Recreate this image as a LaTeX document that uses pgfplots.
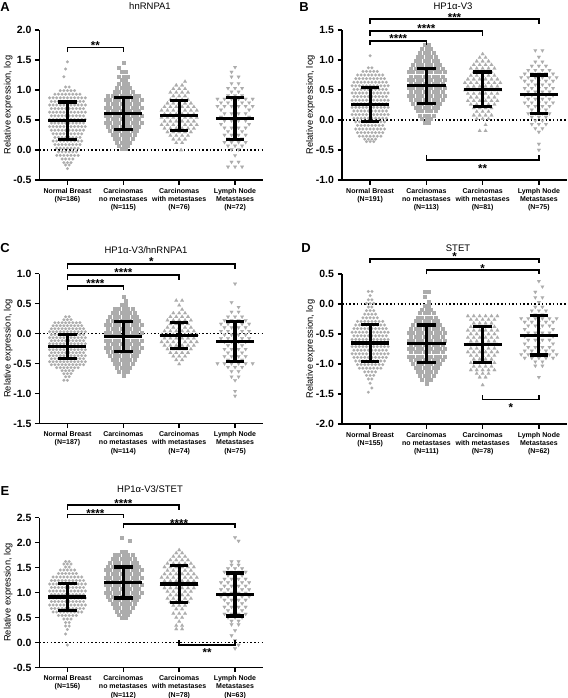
\documentclass[border=0pt]{standalone}
\usepackage{fontspec}
\setmainfont{Liberation Sans}
\usepackage{pgfplots}
\pgfplotsset{compat=1.18}
\definecolor{mk}{RGB}{172,172,172}
\tikzset{
  br/.style={black, line width=1.5pt},
  st/.style={font=\bfseries\fontsize{11.5}{11.5}\selectfont, anchor=base, yshift=-6.7pt, inner sep=0pt},
}
\pgfplotsset{
  panel/.style={scale only axis, height=150pt, xmin=-0.5, xmax=3.5,
    axis x line*=bottom, axis y line*=left,
    axis line style={line width=1.7pt, black},
    tick style={line width=1.5pt, black},
    major tick length=4.5pt, tick align=outside,
    xtick={0,1,2,3},
    xticklabel style={font=\bfseries\fontsize{7}{8.2}\selectfont, align=center},
    yticklabel style={font=\bfseries\fontsize{10.5}{12}\selectfont,
      /pgf/number format/fixed, /pgf/number format/fixed zerofill,
      /pgf/number format/precision=1, /pgf/number format/assume math mode=true},
    ylabel={Relative expression, log},
    ylabel style={font=\fontsize{9.3}{11}\selectfont, at={(axis description cs:-0.14,0.5)}, anchor=center},
    clip=false, clip marker paths=true, anchor=south west},
  sh/.style 2 args={x filter/.expression={#1+#2*x}},
  c0/.style={only marks, color=mk, mark=*, mark size=1.45pt, mark options={draw=mk, fill=mk, line width=0.1pt}},
  c1/.style={only marks, color=mk, mark=square*, mark size=1.5pt, mark options={draw=mk, fill=mk, line width=0.1pt}},
  c2/.style={only marks, color=mk, mark=triangle*, mark size=2.1pt, mark options={draw=mk, fill=mk, line width=0.1pt}},
  c3/.style={only marks, color=mk, mark=triangle*, mark size=2.1pt, mark options={draw=mk, fill=mk, line width=0.1pt, rotate=180}},
  ebl/.style={black, line width=3.2pt, no markers, unbounded coords=jump},
  zl/.style={black, line width=1.5pt, dash pattern=on 1.5pt off 2.2pt},
}
\begin{document}
\begin{tikzpicture}
\useasboundingbox (0pt,0pt) rectangle (567pt,-698pt);
% ================= A =================
\begin{axis}[panel, at={(39.5pt,-180pt)}, width=223.5pt, ymin=-0.5, ymax=2, ytick={-0.5,0,0.5,1,1.5,2},
  xticklabels={{Normal Breast\\(N=186)},{Carcinomas\\no metastases\\(N=115)},{Carcinomas\\with metastases\\(N=76)},{Lymph Node\\Metastases\\(N=72)}}]
\addplot[zl] coordinates {(-0.5,0) (3.5,0)};
\addplot[c0, sh={0}{0.032}] coordinates {
(0,1.47)(-1,1.35)(-2,1.22)
(-1,1.05)(1,1.05)
(-4,0.99)(-2,0.99)(0,0.99)(2,0.99)(4,0.99)
(-7,0.93)(-5,0.93)(-3,0.93)(-1,0.93)(1,0.93)(3,0.93)(5,0.93)(7,0.93)
(-10,0.87)(-8,0.87)(-6,0.87)(-4,0.87)(-2,0.87)(0,0.87)(2,0.87)(4,0.87)(6,0.87)(8,0.87)(10,0.87)
(-9,0.81)(-7,0.81)(-5,0.81)(-3,0.81)(-1,0.81)(1,0.81)(3,0.81)(5,0.81)(7,0.81)(9,0.81)
(-10,0.75)(-8,0.75)(-6,0.75)(-4,0.75)(-2,0.75)(0,0.75)(2,0.75)(4,0.75)(6,0.75)(8,0.75)(10,0.75)
(-9,0.69)(-7,0.69)(-5,0.69)(-3,0.69)(-1,0.69)(1,0.69)(3,0.69)(5,0.69)(7,0.69)(9,0.69)
(-10,0.63)(-8,0.63)(-6,0.63)(-4,0.63)(-2,0.63)(0,0.63)(2,0.63)(4,0.63)(6,0.63)(8,0.63)(10,0.63)
(-9,0.57)(-7,0.57)(-5,0.57)(-3,0.57)(-1,0.57)(1,0.57)(3,0.57)(5,0.57)(7,0.57)(9,0.57)
(-10,0.51)(-8,0.51)(-6,0.51)(-4,0.51)(-2,0.51)(0,0.51)(2,0.51)(4,0.51)(6,0.51)(8,0.51)(10,0.51)
(-9,0.45)(-7,0.45)(-5,0.45)(-3,0.45)(-1,0.45)(1,0.45)(3,0.45)(5,0.45)(7,0.45)(9,0.45)
(-10,0.39)(-8,0.39)(-6,0.39)(-4,0.39)(-2,0.39)(0,0.39)(2,0.39)(4,0.39)(6,0.39)(8,0.39)(10,0.39)
(-9,0.33)(-7,0.33)(-5,0.33)(-3,0.33)(-1,0.33)(1,0.33)(3,0.33)(5,0.33)(7,0.33)(9,0.33)
(-8,0.27)(-6,0.27)(-4,0.27)(-2,0.27)(0,0.27)(2,0.27)(4,0.27)(6,0.27)(8,0.27)
(-7,0.21)(-5,0.21)(-3,0.21)(-1,0.21)(1,0.21)(3,0.21)(5,0.21)(7,0.21)
(-8,0.15)(-6,0.15)(-4,0.15)(-2,0.15)(0,0.15)(2,0.15)(4,0.15)(6,0.15)(8,0.15)
(-7,0.09)(-5,0.09)(-3,0.09)(-1,0.09)(1,0.09)(3,0.09)(5,0.09)(7,0.09)
(-6,0.03)(-4,0.03)(-2,0.03)(0,0.03)(2,0.03)(4,0.03)(6,0.03)
(-5,-0.03)(-3,-0.03)(-1,-0.03)(1,-0.03)(3,-0.03)(5,-0.03)
(-6,-0.09)(-4,-0.09)(-2,-0.09)(0,-0.09)(2,-0.09)(4,-0.09)(6,-0.09)
(-3,-0.15)(-1,-0.15)(1,-0.15)(3,-0.15)
(-2,-0.21)(0,-0.21)(2,-0.21)
(-1,-0.25)(1,-0.25)
(0,-0.31)
};
\addplot[c1, sh={1}{0.04}] coordinates {
(0,1.46)(-2,1.38)
(-1,1.30)(1,1.30)
(-2,1.23)(0,1.23)(2,1.23)
(-1,1.17)(1,1.17)
(-2,1.10)(0,1.10)(2,1.10)
(-3,1.04)(-1,1.04)(1,1.04)(3,1.04)
(-4,0.97)(-2,0.97)(0,0.97)(2,0.97)(4,0.97)
(-7,0.91)(-5,0.91)(-3,0.91)(-1,0.91)(1,0.91)(3,0.91)(5,0.91)(7,0.91)
(-8,0.84)(-6,0.84)(-4,0.84)(-2,0.84)(0,0.84)(2,0.84)(4,0.84)(6,0.84)(8,0.84)
(-7,0.78)(-5,0.78)(-3,0.78)(-1,0.78)(1,0.78)(3,0.78)(5,0.78)(7,0.78)
(-8,0.71)(-6,0.71)(-4,0.71)(-2,0.71)(0,0.71)(2,0.71)(4,0.71)(6,0.71)(8,0.71)
(-7,0.65)(-5,0.65)(-3,0.65)(-1,0.65)(1,0.65)(3,0.65)(5,0.65)(7,0.65)
(-8,0.58)(-6,0.58)(-4,0.58)(-2,0.58)(0,0.58)(2,0.58)(4,0.58)(6,0.58)(8,0.58)
(-7,0.52)(-5,0.52)(-3,0.52)(-1,0.52)(1,0.52)(3,0.52)(5,0.52)(7,0.52)
(-8,0.45)(-6,0.45)(-4,0.45)(-2,0.45)(0,0.45)(2,0.45)(4,0.45)(6,0.45)(8,0.45)
(-7,0.39)(-5,0.39)(-3,0.39)(-1,0.39)(1,0.39)(3,0.39)(5,0.39)(7,0.39)
(-6,0.32)(-4,0.32)(-2,0.32)(0,0.32)(2,0.32)(4,0.32)(6,0.32)
(-5,0.26)(-3,0.26)(-1,0.26)(1,0.26)(3,0.26)(5,0.26)
(-4,0.19)(-2,0.19)(0,0.19)(2,0.19)(4,0.19)
(-3,0.13)(-1,0.13)(1,0.13)(3,0.13)
(-2,0.07)(0,0.07)(2,0.07)
(-1,0.02)(1,0.02)
};
\addplot[c2, sh={2}{0.035}] coordinates {
(3,1.14)
(-1.5,1.08)(1.5,1.08)
(-3,1.02)(0,1.02)(3,1.02)
(-4.5,0.96)(-1.5,0.96)(1.5,0.96)(4.5,0.96)
(-3,0.90)(0,0.90)(3,0.90)
(-4.5,0.84)(-1.5,0.84)(1.5,0.84)(4.5,0.84)
(-6,0.78)(-3,0.78)(0,0.78)(3,0.78)(6,0.78)
(-7.5,0.72)(-4.5,0.72)(-1.5,0.72)(1.5,0.72)(4.5,0.72)(7.5,0.72)
(-9,0.66)(-6,0.66)(-3,0.66)(0,0.66)(3,0.66)(6,0.66)(9,0.66)
(-7.5,0.60)(-4.5,0.60)(-1.5,0.60)(1.5,0.60)(4.5,0.60)(7.5,0.60)
(-9,0.54)(-6,0.54)(-3,0.54)(0,0.54)(3,0.54)(6,0.54)(9,0.54)
(-7.5,0.48)(-4.5,0.48)(-1.5,0.48)(1.5,0.48)(4.5,0.48)(7.5,0.48)
(-9,0.42)(-6,0.42)(-3,0.42)(0,0.42)(3,0.42)(6,0.42)(9,0.42)
(-7.5,0.36)(-4.5,0.36)(-1.5,0.36)(1.5,0.36)(4.5,0.36)(7.5,0.36)
(-6,0.30)(-3,0.30)(0,0.30)(3,0.30)(6,0.30)
(-4.5,0.24)(-1.5,0.24)(1.5,0.24)(4.5,0.24)
(-3,0.18)(0,0.18)(3,0.18)
(-1.5,0.12)(1.5,0.12)
(1,0.00)
};
\addplot[c3, sh={3}{0.042}] coordinates {
(0,1.38)(-1.5,1.30)
(-1.5,1.22)(1.5,1.22)
(-1.5,1.11)(1.5,1.11)
(-3,1.03)(0,1.03)(3,1.03)
(-1.5,0.97)(1.5,0.97)
(-3,0.91)(0,0.91)(3,0.91)
(-7.5,0.85)(-4.5,0.85)(-1.5,0.85)(1.5,0.85)(4.5,0.85)(7.5,0.85)
(-6,0.79)(-3,0.79)(0,0.79)(3,0.79)(6,0.79)
(-7.5,0.73)(-4.5,0.73)(-1.5,0.73)(1.5,0.73)(4.5,0.73)(7.5,0.73)
(-6,0.67)(0,0.67)(6,0.67)
(-4.5,0.61)(-1.5,0.61)(1.5,0.61)(4.5,0.61)
(-6,0.55)(0,0.55)(6,0.55)
(-4.5,0.49)(-1.5,0.49)(1.5,0.49)(4.5,0.49)
(-6,0.43)(0,0.43)(6,0.43)
(-4.5,0.37)(-1.5,0.37)(1.5,0.37)(4.5,0.37)
(-3,0.31)(0,0.31)(3,0.31)
(-4.5,0.25)(-1.5,0.25)(1.5,0.25)(4.5,0.25)
(-3,0.19)(0,0.19)(3,0.19)
(-4.5,0.13)(-1.5,0.13)(1.5,0.13)(4.5,0.13)
(-3,0.07)(0,0.07)(3,0.07)
(-1.5,0.01)(1.5,0.01)
(0,-0.09)
(-1.5,-0.20)(1.5,-0.20)
(-3,-0.28)(0,-0.28)(3,-0.28)
};
\addplot[ebl] coordinates {
(0,0.18)(0,0.80)(nan,nan)(-0.165,0.80)(0.165,0.80)(nan,nan)(-0.165,0.18)(0.165,0.18)(nan,nan)(-0.34,0.49)(0.34,0.49)(nan,nan)
(1,0.34)(1,0.88)(nan,nan)(0.835,0.88)(1.165,0.88)(nan,nan)(0.835,0.34)(1.165,0.34)(nan,nan)(0.66,0.61)(1.34,0.61)(nan,nan)
(2,0.33)(2,0.83)(nan,nan)(1.835,0.83)(2.165,0.83)(nan,nan)(1.835,0.33)(2.165,0.33)(nan,nan)(1.66,0.58)(2.34,0.58)(nan,nan)
(3,0.18)(3,0.87)(nan,nan)(2.835,0.87)(3.165,0.87)(nan,nan)(2.835,0.18)(3.165,0.18)(nan,nan)(2.66,0.525)(3.34,0.525)
};
\draw[br] (axis cs:0,1.63) -- (axis cs:0,1.705) -- (axis cs:1,1.705) -- (axis cs:1,1.63);
\node[st] at (axis cs:0.5,1.78) {**};
\end{axis}
% ================= B =================
\begin{axis}[panel, at={(342pt,-180pt)}, width=225pt, ymin=-1, ymax=1.5, ytick={-1,-0.5,0,0.5,1,1.5},
  xticklabels={{Normal Breast\\(N=191)},{Carcinomas\\no metastases\\(N=113)},{Carcinomas\\with metastases\\(N=81)},{Lymph Node\\Metastases\\(N=75)}}]
\addplot[zl] coordinates {(-0.5,0) (3.5,0)};
\addplot[c0, sh={0}{0.032}] coordinates {
(0,1.07)
(-1,0.87)(1,0.87)
(-4,0.81)(-2,0.81)(0,0.81)(2,0.81)(4,0.81)
(-7,0.75)(-5,0.75)(-3,0.75)(-1,0.75)(1,0.75)(3,0.75)(5,0.75)(7,0.75)
(-8,0.69)(-6,0.69)(-4,0.69)(-2,0.69)(0,0.69)(2,0.69)(4,0.69)(6,0.69)(8,0.69)
(-9,0.63)(-7,0.63)(-5,0.63)(-3,0.63)(-1,0.63)(1,0.63)(3,0.63)(5,0.63)(7,0.63)(9,0.63)
(-10,0.57)(-8,0.57)(-6,0.57)(-4,0.57)(-2,0.57)(0,0.57)(2,0.57)(4,0.57)(6,0.57)(8,0.57)(10,0.57)
(-9,0.51)(-7,0.51)(-5,0.51)(-3,0.51)(-1,0.51)(1,0.51)(3,0.51)(5,0.51)(7,0.51)(9,0.51)
(-10,0.45)(-8,0.45)(-6,0.45)(-4,0.45)(-2,0.45)(0,0.45)(2,0.45)(4,0.45)(6,0.45)(8,0.45)(10,0.45)
(-9,0.39)(-7,0.39)(-5,0.39)(-3,0.39)(-1,0.39)(1,0.39)(3,0.39)(5,0.39)(7,0.39)(9,0.39)
(-10,0.33)(-8,0.33)(-6,0.33)(-4,0.33)(-2,0.33)(0,0.33)(2,0.33)(4,0.33)(6,0.33)(8,0.33)(10,0.33)
(-9,0.27)(-7,0.27)(-5,0.27)(-3,0.27)(-1,0.27)(1,0.27)(3,0.27)(5,0.27)(7,0.27)(9,0.27)
(-10,0.21)(-8,0.21)(-6,0.21)(-4,0.21)(-2,0.21)(0,0.21)(2,0.21)(4,0.21)(6,0.21)(8,0.21)(10,0.21)
(-9,0.15)(-7,0.15)(-5,0.15)(-3,0.15)(-1,0.15)(1,0.15)(3,0.15)(5,0.15)(7,0.15)(9,0.15)
(-10,0.09)(-8,0.09)(-6,0.09)(-4,0.09)(-2,0.09)(0,0.09)(2,0.09)(4,0.09)(6,0.09)(8,0.09)(10,0.09)
(-9,0.03)(-7,0.03)(-5,0.03)(-3,0.03)(-1,0.03)(1,0.03)(3,0.03)(5,0.03)(7,0.03)(9,0.03)
(-8,-0.03)(-6,-0.03)(-4,-0.03)(-2,-0.03)(0,-0.03)(2,-0.03)(4,-0.03)(6,-0.03)(8,-0.03)
(-7,-0.09)(-5,-0.09)(-3,-0.09)(-1,-0.09)(1,-0.09)(3,-0.09)(5,-0.09)(7,-0.09)
(-8,-0.15)(-6,-0.15)(-4,-0.15)(-2,-0.15)(0,-0.15)(2,-0.15)(4,-0.15)(6,-0.15)(8,-0.15)
(-7,-0.21)(-5,-0.21)(-3,-0.21)(-1,-0.21)(1,-0.21)(3,-0.21)(5,-0.21)(7,-0.21)
(-6,-0.27)(-4,-0.27)(-2,-0.27)(0,-0.27)(2,-0.27)(4,-0.27)(6,-0.27)
(-3,-0.32)(-1,-0.32)(1,-0.32)(3,-0.32)
(-2,-0.36)(0,-0.36)(2,-0.36)
};
\addplot[c1, sh={1}{0.04}] coordinates {
(-1,1.25)(1,1.25)
(-2,1.19)(0,1.19)(2,1.19)
(-3,1.12)(-1,1.12)(1,1.12)(3,1.12)
(-4,1.06)(-2,1.06)(0,1.06)(2,1.06)(4,1.06)
(-5,0.99)(-3,0.99)(-1,0.99)(1,0.99)(3,0.99)(5,0.99)
(-6,0.93)(-4,0.93)(-2,0.93)(0,0.93)(2,0.93)(4,0.93)(6,0.93)
(-7,0.86)(-5,0.86)(-3,0.86)(-1,0.86)(1,0.86)(3,0.86)(5,0.86)(7,0.86)
(-8,0.80)(-6,0.80)(-4,0.80)(-2,0.80)(0,0.80)(2,0.80)(4,0.80)(6,0.80)(8,0.80)
(-7,0.73)(-5,0.73)(-3,0.73)(-1,0.73)(1,0.73)(3,0.73)(5,0.73)(7,0.73)
(-8,0.67)(-6,0.67)(-4,0.67)(-2,0.67)(0,0.67)(2,0.67)(4,0.67)(6,0.67)(8,0.67)
(-7,0.60)(-5,0.60)(-3,0.60)(-1,0.60)(1,0.60)(3,0.60)(5,0.60)(7,0.60)
(-8,0.54)(-6,0.54)(-4,0.54)(-2,0.54)(0,0.54)(2,0.54)(4,0.54)(6,0.54)(8,0.54)
(-7,0.47)(-5,0.47)(-3,0.47)(-1,0.47)(1,0.47)(3,0.47)(5,0.47)(7,0.47)
(-8,0.41)(-6,0.41)(-4,0.41)(-2,0.41)(0,0.41)(2,0.41)(4,0.41)(6,0.41)(8,0.41)
(-7,0.34)(-5,0.34)(-3,0.34)(-1,0.34)(1,0.34)(3,0.34)(5,0.34)(7,0.34)
(-6,0.28)(-4,0.28)(-2,0.28)(0,0.28)(2,0.28)(4,0.28)(6,0.28)
(-5,0.21)(-3,0.21)(-1,0.21)(1,0.21)(3,0.21)(5,0.21)
(-4,0.15)(-2,0.15)(0,0.15)(2,0.15)(4,0.15)
(-3,0.08)(-1,0.08)(1,0.08)(3,0.08)
(-2,0.02)(0,0.02)(2,0.02)
(-1,-0.05)(1,-0.05)
};
\addplot[c2, sh={2}{0.035}] coordinates {
(0,1.10)
(-1.5,1.04)(1.5,1.04)
(-3,0.98)(0,0.98)(3,0.98)
(-4.5,0.92)(-1.5,0.92)(1.5,0.92)(4.5,0.92)
(-6,0.86)(-3,0.86)(0,0.86)(3,0.86)(6,0.86)
(-4.5,0.80)(-1.5,0.80)(1.5,0.80)(4.5,0.80)
(-6,0.74)(-3,0.74)(0,0.74)(3,0.74)(6,0.74)
(-7.5,0.68)(-4.5,0.68)(-1.5,0.68)(1.5,0.68)(4.5,0.68)(7.5,0.68)
(-9,0.62)(-6,0.62)(-3,0.62)(0,0.62)(3,0.62)(6,0.62)(9,0.62)
(-7.5,0.56)(-4.5,0.56)(-1.5,0.56)(1.5,0.56)(4.5,0.56)(7.5,0.56)
(-9,0.50)(-6,0.50)(-3,0.50)(0,0.50)(3,0.50)(6,0.50)(9,0.50)
(-7.5,0.44)(-4.5,0.44)(-1.5,0.44)(1.5,0.44)(4.5,0.44)(7.5,0.44)
(-6,0.38)(-3,0.38)(0,0.38)(3,0.38)(6,0.38)
(-7.5,0.32)(-4.5,0.32)(-1.5,0.32)(1.5,0.32)(4.5,0.32)(7.5,0.32)
(-6,0.26)(-3,0.26)(0,0.26)(3,0.26)(6,0.26)
(-4.5,0.20)(-1.5,0.20)(1.5,0.20)(4.5,0.20)
(-3,0.14)(0,0.14)(3,0.14)
(-4.5,0.08)(-1.5,0.08)(1.5,0.08)(4.5,0.08)
(-3,0.02)(0,0.02)(3,0.02)
(1.5,-0.08)
(-1.5,-0.18)(1.5,-0.18)
};
\addplot[c3, sh={3}{0.042}] coordinates {
(-1.5,1.16)(1.5,1.16)
(0,1.05)
(-1.5,0.97)(1.5,0.97)
(-3,0.90)(0,0.90)(3,0.90)
(-4.5,0.83)(-1.5,0.83)(1.5,0.83)(4.5,0.83)
(-6,0.77)(-3,0.77)(0,0.77)(3,0.77)(6,0.77)
(-7.5,0.71)(-4.5,0.71)(-1.5,0.71)(1.5,0.71)(4.5,0.71)(7.5,0.71)
(-6,0.65)(-3,0.65)(0,0.65)(3,0.65)(6,0.65)
(-4.5,0.59)(-1.5,0.59)(1.5,0.59)(4.5,0.59)
(-6,0.53)(-3,0.53)(0,0.53)(3,0.53)(6,0.53)
(-4.5,0.47)(-1.5,0.47)(1.5,0.47)(4.5,0.47)
(-6,0.41)(-3,0.41)(0,0.41)(3,0.41)(6,0.41)
(-4.5,0.35)(-1.5,0.35)(1.5,0.35)(4.5,0.35)
(-6,0.29)(-3,0.29)(0,0.29)(3,0.29)(6,0.29)
(-4.5,0.23)(-1.5,0.23)(1.5,0.23)(4.5,0.23)
(-3,0.17)(0,0.17)(3,0.17)
(-4.5,0.11)(-1.5,0.11)(1.5,0.11)(4.5,0.11)
(-3,0.05)(0,0.05)(3,0.05)
(-1.5,-0.01)(1.5,-0.01)
(-3,-0.07)(0,-0.07)(3,-0.07)
(-1.5,-0.14)(1.5,-0.14)
(0,-0.20)(0,-0.40)(0,-0.50)
};
\addplot[ebl] coordinates {
(0,-0.02)(0,0.54)(nan,nan)(-0.165,0.54)(0.165,0.54)(nan,nan)(-0.165,-0.02)(0.165,-0.02)(nan,nan)(-0.34,0.26)(0.34,0.26)(nan,nan)
(1,0.275)(1,0.865)(nan,nan)(0.835,0.865)(1.165,0.865)(nan,nan)(0.835,0.275)(1.165,0.275)(nan,nan)(0.66,0.57)(1.34,0.57)(nan,nan)
(2,0.22)(2,0.80)(nan,nan)(1.835,0.80)(2.165,0.80)(nan,nan)(1.835,0.22)(2.165,0.22)(nan,nan)(1.66,0.51)(2.34,0.51)(nan,nan)
(3,0.11)(3,0.75)(nan,nan)(2.835,0.75)(3.165,0.75)(nan,nan)(2.835,0.11)(3.165,0.11)(nan,nan)(2.66,0.43)(3.34,0.43)
};
\draw[br] (axis cs:0,1.60) -- (axis cs:0,1.68) -- (axis cs:3,1.68) -- (axis cs:3,1.60);
\draw[br] (axis cs:0,1.405) -- (axis cs:0,1.483) -- (axis cs:2,1.483) -- (axis cs:2,1.405);
\draw[br] (axis cs:0,1.25) -- (axis cs:0,1.317) -- (axis cs:1,1.317) -- (axis cs:1,1.25);
\draw[br] (axis cs:1,-0.583) -- (axis cs:1,-0.667) -- (axis cs:3,-0.667) -- (axis cs:3,-0.583);
\node[st] at (axis cs:1.5,1.75) {***};
\node[st] at (axis cs:1,1.57) {****};
\node[st] at (axis cs:0.5,1.40) {****};
\node[st] at (axis cs:2,-0.76) {**};
\end{axis}
% ================= C =================
\begin{axis}[panel, at={(39.5pt,-423.5pt)}, width=223.5pt, ymin=-1.5, ymax=1, ytick={-1.5,-1,-0.5,0,0.5,1},
  xticklabels={{Normal Breast\\(N=187)},{Carcinomas\\no metastases\\(N=114)},{Carcinomas\\with metastases\\(N=74)},{Lymph Node\\Metastases\\(N=75)}}]
\addplot[zl] coordinates {(-0.5,0) (3.5,0)};
\addplot[c0, sh={0}{0.032}] coordinates {
(-1,0.28)(1,0.28)
(-2,0.23)(0,0.23)(2,0.23)
(-7,0.18)(-5,0.18)(-3,0.18)(-1,0.18)(1,0.18)(3,0.18)(5,0.18)(7,0.18)
(-8,0.13)(-6,0.13)(-4,0.13)(-2,0.13)(0,0.13)(2,0.13)(4,0.13)(6,0.13)(8,0.13)
(-9,0.08)(-7,0.08)(-5,0.08)(-3,0.08)(-1,0.08)(1,0.08)(3,0.08)(5,0.08)(7,0.08)(9,0.08)
(-10,0.03)(-8,0.03)(-6,0.03)(-4,0.03)(-2,0.03)(0,0.03)(2,0.03)(4,0.03)(6,0.03)(8,0.03)(10,0.03)
(-9,-0.02)(-7,-0.02)(-5,-0.02)(-3,-0.02)(-1,-0.02)(1,-0.02)(3,-0.02)(5,-0.02)(7,-0.02)(9,-0.02)
(-10,-0.07)(-8,-0.07)(-6,-0.07)(-4,-0.07)(-2,-0.07)(0,-0.07)(2,-0.07)(4,-0.07)(6,-0.07)(8,-0.07)(10,-0.07)
(-9,-0.12)(-7,-0.12)(-5,-0.12)(-3,-0.12)(-1,-0.12)(1,-0.12)(3,-0.12)(5,-0.12)(7,-0.12)(9,-0.12)
(-10,-0.17)(-8,-0.17)(-6,-0.17)(-4,-0.17)(-2,-0.17)(0,-0.17)(2,-0.17)(4,-0.17)(6,-0.17)(8,-0.17)(10,-0.17)
(-9,-0.22)(-7,-0.22)(-5,-0.22)(-3,-0.22)(-1,-0.22)(1,-0.22)(3,-0.22)(5,-0.22)(7,-0.22)(9,-0.22)
(-10,-0.27)(-8,-0.27)(-6,-0.27)(-4,-0.27)(-2,-0.27)(0,-0.27)(2,-0.27)(4,-0.27)(6,-0.27)(8,-0.27)(10,-0.27)
(-9,-0.32)(-7,-0.32)(-5,-0.32)(-3,-0.32)(-1,-0.32)(1,-0.32)(3,-0.32)(5,-0.32)(7,-0.32)(9,-0.32)
(-10,-0.37)(-8,-0.37)(-6,-0.37)(-4,-0.37)(-2,-0.37)(0,-0.37)(2,-0.37)(4,-0.37)(6,-0.37)(8,-0.37)(10,-0.37)
(-9,-0.42)(-7,-0.42)(-5,-0.42)(-3,-0.42)(-1,-0.42)(1,-0.42)(3,-0.42)(5,-0.42)(7,-0.42)(9,-0.42)
(-10,-0.47)(-8,-0.47)(-6,-0.47)(-4,-0.47)(-2,-0.47)(0,-0.47)(2,-0.47)(4,-0.47)(6,-0.47)(8,-0.47)(10,-0.47)
(-9,-0.52)(-7,-0.52)(-5,-0.52)(-3,-0.52)(-1,-0.52)(1,-0.52)(3,-0.52)(5,-0.52)(7,-0.52)(9,-0.52)
(-6,-0.57)(-4,-0.57)(-2,-0.57)(0,-0.57)(2,-0.57)(4,-0.57)(6,-0.57)
(-3,-0.62)(-1,-0.62)(1,-0.62)(3,-0.62)
(-2,-0.67)(0,-0.67)(2,-0.67)
(-1,-0.72)(1,-0.72)
(-2,-0.78)(0,-0.78)
};
\addplot[c1, sh={1}{0.04}] coordinates {
(0,0.62)(1,0.55)
(-1,0.48)(1,0.48)
(-4,0.41)(-2,0.41)(0,0.41)(2,0.41)(4,0.41)
(-5,0.35)(-3,0.35)(-1,0.35)(1,0.35)(3,0.35)(5,0.35)
(-6,0.28)(-4,0.28)(-2,0.28)(0,0.28)(2,0.28)(4,0.28)(6,0.28)
(-7,0.22)(-5,0.22)(-3,0.22)(-1,0.22)(1,0.22)(3,0.22)(5,0.22)(7,0.22)
(-8,0.15)(-6,0.15)(-4,0.15)(-2,0.15)(0,0.15)(2,0.15)(4,0.15)(6,0.15)(8,0.15)
(-7,0.09)(-5,0.09)(-3,0.09)(-1,0.09)(1,0.09)(3,0.09)(5,0.09)(7,0.09)
(-8,0.02)(-6,0.02)(-4,0.02)(-2,0.02)(0,0.02)(2,0.02)(4,0.02)(6,0.02)(8,0.02)
(-7,-0.04)(-5,-0.04)(-3,-0.04)(-1,-0.04)(1,-0.04)(3,-0.04)(5,-0.04)(7,-0.04)
(-8,-0.11)(-6,-0.11)(-4,-0.11)(-2,-0.11)(0,-0.11)(2,-0.11)(4,-0.11)(6,-0.11)(8,-0.11)
(-7,-0.17)(-5,-0.17)(-3,-0.17)(-1,-0.17)(1,-0.17)(3,-0.17)(5,-0.17)(7,-0.17)
(-8,-0.24)(-6,-0.24)(-4,-0.24)(-2,-0.24)(0,-0.24)(2,-0.24)(4,-0.24)(6,-0.24)(8,-0.24)
(-7,-0.30)(-5,-0.30)(-3,-0.30)(-1,-0.30)(1,-0.30)(3,-0.30)(5,-0.30)(7,-0.30)
(-6,-0.37)(-4,-0.37)(-2,-0.37)(0,-0.37)(2,-0.37)(4,-0.37)(6,-0.37)
(-5,-0.43)(-3,-0.43)(-1,-0.43)(1,-0.43)(3,-0.43)(5,-0.43)
(-4,-0.50)(-2,-0.50)(0,-0.50)(2,-0.50)(4,-0.50)
(-3,-0.56)(-1,-0.56)(1,-0.56)(3,-0.56)
(-2,-0.63)(0,-0.63)(2,-0.63)
(0,-0.70)
};
\addplot[c2, sh={2}{0.035}] coordinates {
(-1.5,0.55)(1.5,0.55)
(0,0.47)(1.5,0.40)
(-3,0.34)(0,0.34)(3,0.34)
(-4.5,0.28)(-1.5,0.28)(1.5,0.28)(4.5,0.28)
(-6,0.22)(-3,0.22)(0,0.22)(3,0.22)(6,0.22)
(-4.5,0.16)(-1.5,0.16)(1.5,0.16)(4.5,0.16)
(-6,0.10)(-3,0.10)(0,0.10)(3,0.10)(6,0.10)
(-7.5,0.04)(-4.5,0.04)(-1.5,0.04)(1.5,0.04)(4.5,0.04)(7.5,0.04)
(-9,-0.02)(-6,-0.02)(-3,-0.02)(0,-0.02)(3,-0.02)(6,-0.02)(9,-0.02)
(-7.5,-0.08)(-4.5,-0.08)(-1.5,-0.08)(1.5,-0.08)(4.5,-0.08)(7.5,-0.08)
(-9,-0.14)(-6,-0.14)(-3,-0.14)(0,-0.14)(3,-0.14)(6,-0.14)(9,-0.14)
(-7.5,-0.20)(-4.5,-0.20)(-1.5,-0.20)(1.5,-0.20)(4.5,-0.20)(7.5,-0.20)
(-6,-0.26)(-3,-0.26)(0,-0.26)(3,-0.26)(6,-0.26)
(-4.5,-0.32)(-1.5,-0.32)(1.5,-0.32)(4.5,-0.32)
(-3,-0.38)(0,-0.38)(3,-0.38)
(-1.5,-0.44)(1.5,-0.44)
(0,-0.51)
};
\addplot[c3, sh={3}{0.042}] coordinates {
(0,0.83)(-1.5,0.52)(1.5,0.44)
(-1.5,0.36)(1.5,0.36)
(-3,0.28)(0,0.28)(3,0.28)
(-4.5,0.22)(-1.5,0.22)(1.5,0.22)(4.5,0.22)
(-6,0.16)(-3,0.16)(0,0.16)(3,0.16)(6,0.16)
(-4.5,0.10)(-1.5,0.10)(1.5,0.10)(4.5,0.10)
(-6,0.04)(-3,0.04)(0,0.04)(3,0.04)(6,0.04)
(-4.5,-0.02)(-1.5,-0.02)(1.5,-0.02)(4.5,-0.02)
(-6,-0.08)(-3,-0.08)(0,-0.08)(3,-0.08)(6,-0.08)
(-4.5,-0.14)(-1.5,-0.14)(1.5,-0.14)(4.5,-0.14)
(-3,-0.20)(0,-0.20)(3,-0.20)
(-4.5,-0.26)(-1.5,-0.26)(1.5,-0.26)(4.5,-0.26)
(-3,-0.32)(0,-0.32)(3,-0.32)
(-4.5,-0.38)(-1.5,-0.38)(1.5,-0.38)(4.5,-0.38)
(-3,-0.44)(0,-0.44)(3,-0.44)
(-7.5,-0.50)(-4.5,-0.50)(-1.5,-0.50)(1.5,-0.50)(4.5,-0.50)(7.5,-0.50)
(-3,-0.56)(0,-0.56)(3,-0.56)
(-1.5,-0.63)(1.5,-0.63)
(-1.5,-0.72)(1.5,-0.72)
(0,-0.78)(0,-0.96)(0,-1.04)
};
\addplot[ebl] coordinates {
(0,-0.41)(0,-0.01)(nan,nan)(-0.165,-0.01)(0.165,-0.01)(nan,nan)(-0.165,-0.41)(0.165,-0.41)(nan,nan)(-0.34,-0.21)(0.34,-0.21)(nan,nan)
(1,-0.30)(1,0.20)(nan,nan)(0.835,0.20)(1.165,0.20)(nan,nan)(0.835,-0.30)(1.165,-0.30)(nan,nan)(0.66,-0.05)(1.34,-0.05)(nan,nan)
(2,-0.245)(2,0.185)(nan,nan)(1.835,0.185)(2.165,0.185)(nan,nan)(1.835,-0.245)(2.165,-0.245)(nan,nan)(1.66,-0.03)(2.34,-0.03)(nan,nan)
(3,-0.465)(3,0.195)(nan,nan)(2.835,0.195)(3.165,0.195)(nan,nan)(2.835,-0.465)(3.165,-0.465)(nan,nan)(2.66,-0.135)(3.34,-0.135)
};
\draw[br] (axis cs:0,1.075) -- (axis cs:0,1.16) -- (axis cs:3,1.16) -- (axis cs:3,1.075);
\draw[br] (axis cs:0,0.90) -- (axis cs:0,0.975) -- (axis cs:2,0.975) -- (axis cs:2,0.90);
\draw[br] (axis cs:0,0.72) -- (axis cs:0,0.79) -- (axis cs:1,0.79) -- (axis cs:1,0.72);
\node[st] at (axis cs:1.5,1.24) {*};
\node[st] at (axis cs:1,1.06) {****};
\node[st] at (axis cs:0.5,0.875) {****};
\end{axis}
% ================= D =================
\begin{axis}[panel, at={(342pt,-424pt)}, width=225pt, ymin=-2, ymax=0.5, ytick={-2,-1.5,-1,-0.5,0,0.5},
  xticklabels={{Normal Breast\\(N=155)},{Carcinomas\\no metastases\\(N=111)},{Carcinomas\\with metastases\\(N=78)},{Lymph Node\\Metastases\\(N=62)}}]
\addplot[zl] coordinates {(-0.5,0) (3.5,0)};
\addplot[c0, sh={0}{0.032}] coordinates {
(-1,0.21)(1,0.21)
(0,0.14)
(-1,0.07)(1,0.07)
(-2,0.01)(0,0.01)(2,0.01)
(-1,-0.05)(1,-0.05)
(-2,-0.11)(0,-0.11)(2,-0.11)
(-3,-0.17)(-1,-0.17)(1,-0.17)(3,-0.17)
(-4,-0.23)(-2,-0.23)(0,-0.23)(2,-0.23)(4,-0.23)
(-7,-0.29)(-5,-0.29)(-3,-0.29)(-1,-0.29)(1,-0.29)(3,-0.29)(5,-0.29)(7,-0.29)
(-8,-0.35)(-6,-0.35)(-4,-0.35)(-2,-0.35)(0,-0.35)(2,-0.35)(4,-0.35)(6,-0.35)(8,-0.35)
(-9,-0.41)(-7,-0.41)(-5,-0.41)(-3,-0.41)(-1,-0.41)(1,-0.41)(3,-0.41)(5,-0.41)(7,-0.41)(9,-0.41)
(-10,-0.47)(-8,-0.47)(-6,-0.47)(-4,-0.47)(-2,-0.47)(0,-0.47)(2,-0.47)(4,-0.47)(6,-0.47)(8,-0.47)(10,-0.47)
(-9,-0.53)(-7,-0.53)(-5,-0.53)(-3,-0.53)(-1,-0.53)(1,-0.53)(3,-0.53)(5,-0.53)(7,-0.53)(9,-0.53)
(-10,-0.59)(-8,-0.59)(-6,-0.59)(-4,-0.59)(-2,-0.59)(0,-0.59)(2,-0.59)(4,-0.59)(6,-0.59)(8,-0.59)(10,-0.59)
(-9,-0.65)(-7,-0.65)(-5,-0.65)(-3,-0.65)(-1,-0.65)(1,-0.65)(3,-0.65)(5,-0.65)(7,-0.65)(9,-0.65)
(-10,-0.71)(-8,-0.71)(-6,-0.71)(-4,-0.71)(-2,-0.71)(0,-0.71)(2,-0.71)(4,-0.71)(6,-0.71)(8,-0.71)(10,-0.71)
(-9,-0.77)(-7,-0.77)(-5,-0.77)(-3,-0.77)(-1,-0.77)(1,-0.77)(3,-0.77)(5,-0.77)(7,-0.77)(9,-0.77)
(-10,-0.83)(-8,-0.83)(-6,-0.83)(-4,-0.83)(-2,-0.83)(0,-0.83)(2,-0.83)(4,-0.83)(6,-0.83)(8,-0.83)(10,-0.83)
(-9,-0.89)(-7,-0.89)(-5,-0.89)(-3,-0.89)(-1,-0.89)(1,-0.89)(3,-0.89)(5,-0.89)(7,-0.89)(9,-0.89)
(-8,-0.95)(-6,-0.95)(-4,-0.95)(-2,-0.95)(0,-0.95)(2,-0.95)(4,-0.95)(6,-0.95)(8,-0.95)
(-7,-1.01)(-5,-1.01)(-3,-1.01)(-1,-1.01)(1,-1.01)(3,-1.01)(5,-1.01)(7,-1.01)
(-6,-1.07)(-4,-1.07)(-2,-1.07)(0,-1.07)(2,-1.07)(4,-1.07)(6,-1.07)
(-3,-1.13)(-1,-1.13)(1,-1.13)(3,-1.13)
(-2,-1.19)(0,-1.19)(2,-1.19)
(-1,-1.25)(1,-1.25)
(0,-1.32)(1,-1.40)(-1,-1.47)
};
\addplot[c1, sh={1}{0.04}] coordinates {
(-1,0.20)(1,0.20)
(-1,0.13)(1,0.04)
(-1,-0.02)(1,-0.02)
(-2,-0.09)(0,-0.09)(2,-0.09)
(-3,-0.15)(-1,-0.15)(1,-0.15)(3,-0.15)
(-4,-0.22)(-2,-0.22)(0,-0.22)(2,-0.22)(4,-0.22)
(-5,-0.28)(-3,-0.28)(-1,-0.28)(1,-0.28)(3,-0.28)(5,-0.28)
(-6,-0.35)(-4,-0.35)(-2,-0.35)(0,-0.35)(2,-0.35)(4,-0.35)(6,-0.35)
(-7,-0.41)(-5,-0.41)(-3,-0.41)(-1,-0.41)(1,-0.41)(3,-0.41)(5,-0.41)(7,-0.41)
(-8,-0.48)(-6,-0.48)(-4,-0.48)(-2,-0.48)(0,-0.48)(2,-0.48)(4,-0.48)(6,-0.48)(8,-0.48)
(-7,-0.54)(-5,-0.54)(-3,-0.54)(-1,-0.54)(1,-0.54)(3,-0.54)(5,-0.54)(7,-0.54)
(-8,-0.61)(-6,-0.61)(-4,-0.61)(-2,-0.61)(0,-0.61)(2,-0.61)(4,-0.61)(6,-0.61)(8,-0.61)
(-7,-0.67)(-5,-0.67)(-3,-0.67)(-1,-0.67)(1,-0.67)(3,-0.67)(5,-0.67)(7,-0.67)
(-8,-0.74)(-6,-0.74)(-4,-0.74)(-2,-0.74)(0,-0.74)(2,-0.74)(4,-0.74)(6,-0.74)(8,-0.74)
(-7,-0.80)(-5,-0.80)(-3,-0.80)(-1,-0.80)(1,-0.80)(3,-0.80)(5,-0.80)(7,-0.80)
(-8,-0.87)(-6,-0.87)(-4,-0.87)(-2,-0.87)(0,-0.87)(2,-0.87)(4,-0.87)(6,-0.87)(8,-0.87)
(-7,-0.93)(-5,-0.93)(-3,-0.93)(-1,-0.93)(1,-0.93)(3,-0.93)(5,-0.93)(7,-0.93)
(-6,-1.00)(-4,-1.00)(-2,-1.00)(0,-1.00)(2,-1.00)(4,-1.00)(6,-1.00)
(-5,-1.06)(-3,-1.06)(-1,-1.06)(1,-1.06)(3,-1.06)(5,-1.06)
(-4,-1.13)(-2,-1.13)(0,-1.13)(2,-1.13)(4,-1.13)
(-3,-1.19)(-1,-1.19)(1,-1.19)(3,-1.19)
(-2,-1.26)(0,-1.26)(2,-1.26)
(0,-1.33)
};
\addplot[c2, sh={2}{0.035}] coordinates {
(-7.5,-0.20)(-4.5,-0.20)(-1.5,-0.20)(1.5,-0.20)(4.5,-0.20)(7.5,-0.20)
(-6,-0.26)(-3,-0.26)(0,-0.26)(3,-0.26)(6,-0.26)
(-4.5,-0.32)(-1.5,-0.32)(1.5,-0.32)(4.5,-0.32)
(-6,-0.38)(-3,-0.38)(0,-0.38)(3,-0.38)(6,-0.38)
(-7.5,-0.44)(-4.5,-0.44)(-1.5,-0.44)(1.5,-0.44)(4.5,-0.44)(7.5,-0.44)
(-6,-0.50)(-3,-0.50)(0,-0.50)(3,-0.50)(6,-0.50)
(-7.5,-0.56)(-4.5,-0.56)(-1.5,-0.56)(1.5,-0.56)(4.5,-0.56)(7.5,-0.56)
(-6,-0.62)(-3,-0.62)(0,-0.62)(3,-0.62)(6,-0.62)
(-7.5,-0.68)(-4.5,-0.68)(-1.5,-0.68)(1.5,-0.68)(4.5,-0.68)(7.5,-0.68)
(-6,-0.74)(-3,-0.74)(0,-0.74)(3,-0.74)(6,-0.74)
(-7.5,-0.80)(-4.5,-0.80)(-1.5,-0.80)(1.5,-0.80)(4.5,-0.80)(7.5,-0.80)
(-6,-0.86)(-3,-0.86)(0,-0.86)(3,-0.86)(6,-0.86)
(-4.5,-0.92)(-1.5,-0.92)(1.5,-0.92)(4.5,-0.92)
(-6,-0.98)(-3,-0.98)(0,-0.98)(3,-0.98)(6,-0.98)
(-4.5,-1.04)(-1.5,-1.04)(1.5,-1.04)(4.5,-1.04)
(-6,-1.10)(-3,-1.10)(0,-1.10)(3,-1.10)(6,-1.10)
(-3,-1.16)(0,-1.16)(3,-1.16)
(-1.5,-1.22)(1.5,-1.22)
(0,-1.35)
};
\addplot[c3, sh={3}{0.042}] coordinates {
(0,0.38)(1.5,0.29)(-1.5,0.20)
(-1.5,0.11)(1.5,0.11)
(0,0.03)
(-1.5,-0.05)(1.5,-0.05)
(-3,-0.11)(0,-0.11)(3,-0.11)
(-1.5,-0.18)(1.5,-0.18)
(-7.5,-0.24)(-4.5,-0.24)(-1.5,-0.24)(1.5,-0.24)(4.5,-0.24)(7.5,-0.24)
(-6,-0.30)(-3,-0.30)(0,-0.30)(3,-0.30)(6,-0.30)
(-4.5,-0.36)(-1.5,-0.36)(1.5,-0.36)(4.5,-0.36)
(-6,-0.42)(0,-0.42)(6,-0.42)
(-4.5,-0.48)(-1.5,-0.48)(1.5,-0.48)(4.5,-0.48)
(-6,-0.54)(0,-0.54)(6,-0.54)
(-4.5,-0.60)(-1.5,-0.60)(1.5,-0.60)(4.5,-0.60)
(-6,-0.66)(0,-0.66)(6,-0.66)
(-4.5,-0.72)(-1.5,-0.72)(1.5,-0.72)(4.5,-0.72)
(-6,-0.78)(-3,-0.78)(0,-0.78)(3,-0.78)(6,-0.78)
(-7.5,-0.84)(-4.5,-0.84)(-1.5,-0.84)(1.5,-0.84)(4.5,-0.84)(7.5,-0.84)
(-6,-0.90)(-3,-0.90)(0,-0.90)(3,-0.90)(6,-0.90)
(-1.5,-0.96)(1.5,-0.96)
(-1.5,-1.03)(1.5,-1.03)
(0,-1.22)
};
\addplot[ebl] coordinates {
(0,-0.96)(0,-0.34)(nan,nan)(-0.165,-0.34)(0.165,-0.34)(nan,nan)(-0.165,-0.96)(0.165,-0.96)(nan,nan)(-0.34,-0.65)(0.34,-0.65)(nan,nan)
(1,-0.97)(1,-0.35)(nan,nan)(0.835,-0.35)(1.165,-0.35)(nan,nan)(0.835,-0.97)(1.165,-0.97)(nan,nan)(0.66,-0.66)(1.34,-0.66)(nan,nan)
(2,-0.97)(2,-0.37)(nan,nan)(1.835,-0.37)(2.165,-0.37)(nan,nan)(1.835,-0.97)(2.165,-0.97)(nan,nan)(1.66,-0.67)(2.34,-0.67)(nan,nan)
(3,-0.85)(3,-0.19)(nan,nan)(2.835,-0.19)(3.165,-0.19)(nan,nan)(2.835,-0.85)(3.165,-0.85)(nan,nan)(2.66,-0.52)(3.34,-0.52)
};
\draw[br] (axis cs:0,0.68) -- (axis cs:0,0.75) -- (axis cs:3,0.75) -- (axis cs:3,0.68);
\draw[br] (axis cs:1,0.495) -- (axis cs:1,0.567) -- (axis cs:3,0.567) -- (axis cs:3,0.495);
\draw[br] (axis cs:2,-1.517) -- (axis cs:2,-1.588) -- (axis cs:3,-1.588) -- (axis cs:3,-1.517);
\node[st] at (axis cs:1.5,0.83) {*};
\node[st] at (axis cs:2,0.633) {*};
\node[st] at (axis cs:2.5,-1.68) {*};
\end{axis}
% ================= E =================
\begin{axis}[panel, at={(39.5pt,-667.5pt)}, width=223.5pt, ymin=-0.5, ymax=2.5, ytick={-0.5,0,0.5,1,1.5,2,2.5},
  xticklabels={{Normal Breast\\(N=156)},{Carcinomas\\no metastases\\(N=112)},{Carcinomas\\with metastases\\(N=78)},{Lymph Node\\Metastases\\(N=63)}}]
\addplot[zl] coordinates {(-0.5,0) (3.5,0)};
\addplot[c0, sh={0}{0.032}] coordinates {
(-1,1.62)(1,1.62)
(-2,1.57)(0,1.57)(2,1.57)
(-1,1.51)(1,1.51)
(-4,1.45)(-2,1.45)(0,1.45)(2,1.45)(4,1.45)
(-5,1.38)(-3,1.38)(-1,1.38)(1,1.38)(3,1.38)(5,1.38)
(-8,1.31)(-6,1.31)(-4,1.31)(-2,1.31)(0,1.31)(2,1.31)(4,1.31)(6,1.31)(8,1.31)
(-9,1.24)(-7,1.24)(-5,1.24)(-3,1.24)(-1,1.24)(1,1.24)(3,1.24)(5,1.24)(7,1.24)(9,1.24)
(-10,1.17)(-8,1.17)(-6,1.17)(-4,1.17)(-2,1.17)(0,1.17)(2,1.17)(4,1.17)(6,1.17)(8,1.17)(10,1.17)
(-9,1.10)(-7,1.10)(-5,1.10)(-3,1.10)(-1,1.10)(1,1.10)(3,1.10)(5,1.10)(7,1.10)(9,1.10)
(-10,1.03)(-8,1.03)(-6,1.03)(-4,1.03)(-2,1.03)(0,1.03)(2,1.03)(4,1.03)(6,1.03)(8,1.03)(10,1.03)
(-9,0.96)(-7,0.96)(-5,0.96)(-3,0.96)(-1,0.96)(1,0.96)(3,0.96)(5,0.96)(7,0.96)(9,0.96)
(-10,0.89)(-8,0.89)(-6,0.89)(-4,0.89)(-2,0.89)(0,0.89)(2,0.89)(4,0.89)(6,0.89)(8,0.89)(10,0.89)
(-9,0.82)(-7,0.82)(-5,0.82)(-3,0.82)(-1,0.82)(1,0.82)(3,0.82)(5,0.82)(7,0.82)(9,0.82)
(-10,0.75)(-8,0.75)(-6,0.75)(-4,0.75)(-2,0.75)(0,0.75)(2,0.75)(4,0.75)(6,0.75)(8,0.75)(10,0.75)
(-9,0.68)(-7,0.68)(-5,0.68)(-3,0.68)(-1,0.68)(1,0.68)(3,0.68)(5,0.68)(7,0.68)(9,0.68)
(-8,0.61)(-6,0.61)(-4,0.61)(-2,0.61)(0,0.61)(2,0.61)(4,0.61)(6,0.61)(8,0.61)
(-5,0.54)(-3,0.54)(-1,0.54)(1,0.54)(3,0.54)(5,0.54)
(-2,0.47)(0,0.47)(2,0.47)
(-1,0.40)(1,0.40)
(-1,0.33)(1,0.33)
(0,0.26)(-1,0.17)(0,-0.05)
};
\addplot[c1, sh={1}{0.04}] coordinates {
(-1,2.09)(3,2.03)
(-1,1.82)(1,1.82)
(-4,1.75)(-2,1.75)(0,1.75)(2,1.75)(4,1.75)
(-5,1.67)(-3,1.67)(-1,1.67)(1,1.67)(3,1.67)(5,1.67)
(-6,1.60)(-4,1.60)(-2,1.60)(0,1.60)(2,1.60)(4,1.60)(6,1.60)
(-7,1.52)(-5,1.52)(-3,1.52)(-1,1.52)(1,1.52)(3,1.52)(5,1.52)(7,1.52)
(-8,1.45)(-6,1.45)(-4,1.45)(-2,1.45)(0,1.45)(2,1.45)(4,1.45)(6,1.45)(8,1.45)
(-7,1.37)(-5,1.37)(-3,1.37)(-1,1.37)(1,1.37)(3,1.37)(5,1.37)(7,1.37)
(-8,1.30)(-6,1.30)(-4,1.30)(-2,1.30)(0,1.30)(2,1.30)(4,1.30)(6,1.30)(8,1.30)
(-7,1.22)(-5,1.22)(-3,1.22)(-1,1.22)(1,1.22)(3,1.22)(5,1.22)(7,1.22)
(-8,1.15)(-6,1.15)(-4,1.15)(-2,1.15)(0,1.15)(2,1.15)(4,1.15)(6,1.15)(8,1.15)
(-7,1.07)(-5,1.07)(-3,1.07)(-1,1.07)(1,1.07)(3,1.07)(5,1.07)(7,1.07)
(-8,1.00)(-6,1.00)(-4,1.00)(-2,1.00)(0,1.00)(2,1.00)(4,1.00)(6,1.00)(8,1.00)
(-7,0.92)(-5,0.92)(-3,0.92)(-1,0.92)(1,0.92)(3,0.92)(5,0.92)(7,0.92)
(-6,0.85)(-4,0.85)(-2,0.85)(0,0.85)(2,0.85)(4,0.85)(6,0.85)
(-5,0.77)(-3,0.77)(-1,0.77)(1,0.77)(3,0.77)(5,0.77)
(-4,0.70)(-2,0.70)(0,0.70)(2,0.70)(4,0.70)
(-3,0.62)(-1,0.62)(1,0.62)(3,0.62)
(-2,0.55)(0,0.55)(2,0.55)
(-1,0.49)(1,0.49)
};
\addplot[c2, sh={2}{0.035}] coordinates {
(0,1.85)
(-1.5,1.79)(1.5,1.79)
(-3,1.72)(0,1.72)(3,1.72)
(-4.5,1.65)(-1.5,1.65)(1.5,1.65)(4.5,1.65)
(-6,1.58)(-3,1.58)(0,1.58)(3,1.58)(6,1.58)
(-7.5,1.51)(-4.5,1.51)(-1.5,1.51)(1.5,1.51)(4.5,1.51)(7.5,1.51)
(-6,1.44)(-3,1.44)(0,1.44)(3,1.44)(6,1.44)
(-7.5,1.37)(-4.5,1.37)(-1.5,1.37)(1.5,1.37)(4.5,1.37)(7.5,1.37)
(-9,1.30)(-6,1.30)(-3,1.30)(0,1.30)(3,1.30)(6,1.30)(9,1.30)
(-7.5,1.23)(-4.5,1.23)(-1.5,1.23)(1.5,1.23)(4.5,1.23)(7.5,1.23)
(-9,1.16)(-6,1.16)(-3,1.16)(0,1.16)(3,1.16)(6,1.16)(9,1.16)
(-7.5,1.09)(-4.5,1.09)(-1.5,1.09)(1.5,1.09)(4.5,1.09)(7.5,1.09)
(-6,1.02)(-3,1.02)(0,1.02)(3,1.02)(6,1.02)
(-4.5,0.95)(-1.5,0.95)(1.5,0.95)(4.5,0.95)
(-6,0.88)(-3,0.88)(0,0.88)(3,0.88)(6,0.88)
(-4.5,0.81)(-1.5,0.81)(1.5,0.81)(4.5,0.81)
(-3,0.74)(0,0.74)(3,0.74)
(-1.5,0.67)(1.5,0.67)
(-3,0.58)(0,0.58)(3,0.58)
(-1.5,0.50)(1.5,0.50)
(0,0.42)
(-1.5,0.34)(1.5,0.34)
(-1.5,0.27)(1.5,0.27)
};
\addplot[c3, sh={3}{0.042}] coordinates {
(0,2.10)(1.5,2.03)
(-1.5,1.62)(1.5,1.62)
(-1.5,1.55)(1.5,1.55)
(-3,1.48)(0,1.48)(3,1.48)
(-4.5,1.41)(-1.5,1.41)(1.5,1.41)(4.5,1.41)
(-3,1.34)(0,1.34)(3,1.34)
(-4.5,1.27)(-1.5,1.27)(1.5,1.27)(4.5,1.27)
(-6,1.20)(-3,1.20)(0,1.20)(3,1.20)(6,1.20)
(-4.5,1.13)(-1.5,1.13)(1.5,1.13)(4.5,1.13)
(-6,1.06)(-3,1.06)(0,1.06)(3,1.06)(6,1.06)
(-4.5,0.99)(-1.5,0.99)(1.5,0.99)(4.5,0.99)
(-6,0.92)(-3,0.92)(0,0.92)(3,0.92)(6,0.92)
(-4.5,0.85)(-1.5,0.85)(1.5,0.85)(4.5,0.85)
(-3,0.78)(0,0.78)(3,0.78)
(-4.5,0.71)(-1.5,0.71)(1.5,0.71)(4.5,0.71)
(-3,0.64)(0,0.64)(3,0.64)
(-4.5,0.57)(-1.5,0.57)(1.5,0.57)(4.5,0.57)
(-3,0.50)(0,0.50)(3,0.50)
(-1.5,0.43)(1.5,0.43)
(-1.5,0.36)(1.5,0.36)
(0,0.24)(-1.5,0.14)(0,0.04)(1.5,-0.05)(0,-0.12)
};
\addplot[ebl] coordinates {
(0,0.64)(0,1.18)(nan,nan)(-0.165,1.18)(0.165,1.18)(nan,nan)(-0.165,0.64)(0.165,0.64)(nan,nan)(-0.34,0.91)(0.34,0.91)(nan,nan)
(1,0.89)(1,1.51)(nan,nan)(0.835,1.51)(1.165,1.51)(nan,nan)(0.835,0.89)(1.165,0.89)(nan,nan)(0.66,1.20)(1.34,1.20)(nan,nan)
(2,0.80)(2,1.54)(nan,nan)(1.835,1.54)(2.165,1.54)(nan,nan)(1.835,0.80)(2.165,0.80)(nan,nan)(1.66,1.17)(2.34,1.17)(nan,nan)
(3,0.53)(3,1.39)(nan,nan)(2.835,1.39)(3.165,1.39)(nan,nan)(2.835,0.53)(3.165,0.53)(nan,nan)(2.66,0.96)(3.34,0.96)
};
\draw[br] (axis cs:0,2.66) -- (axis cs:0,2.75) -- (axis cs:2,2.75) -- (axis cs:2,2.66);
\draw[br] (axis cs:0,2.483) -- (axis cs:0,2.563) -- (axis cs:1,2.563) -- (axis cs:1,2.483);
\draw[br] (axis cs:1,2.283) -- (axis cs:1,2.37) -- (axis cs:3,2.37) -- (axis cs:3,2.283);
\draw[br] (axis cs:2,0.05) -- (axis cs:2,-0.05) -- (axis cs:3,-0.05) -- (axis cs:3,0.05);
\node[st] at (axis cs:1,2.84) {****};
\node[st] at (axis cs:0.5,2.64) {****};
\node[st] at (axis cs:2,2.44) {****};
\node[st] at (axis cs:2.5,-0.15) {**};
\end{axis}
% titles and panel letters
\node[font=\fontsize{9.5}{11}\selectfont] at (150pt,-6pt) {hnRNPA1};
\node[font=\fontsize{9.5}{11}\selectfont] at (453pt,-6pt) {HP1α-V3};
\node[font=\fontsize{9.5}{11}\selectfont] at (146pt,-250pt) {HP1α-V3/hnRNPA1};
\node[font=\fontsize{9.5}{11}\selectfont] at (458pt,-248pt) {STET};
\node[font=\fontsize{9.5}{11}\selectfont] at (150pt,-489pt) {HP1α-V3/STET};
\node[font=\bfseries\fontsize{13}{13}\selectfont] at (5pt,-7pt) {A};
\node[font=\bfseries\fontsize{13}{13}\selectfont] at (304pt,-7pt) {B};
\node[font=\bfseries\fontsize{13}{13}\selectfont] at (5pt,-248pt) {C};
\node[font=\bfseries\fontsize{13}{13}\selectfont] at (306pt,-248pt) {D};
\node[font=\bfseries\fontsize{13}{13}\selectfont] at (5pt,-491pt) {E};
\end{tikzpicture}
\end{document}
